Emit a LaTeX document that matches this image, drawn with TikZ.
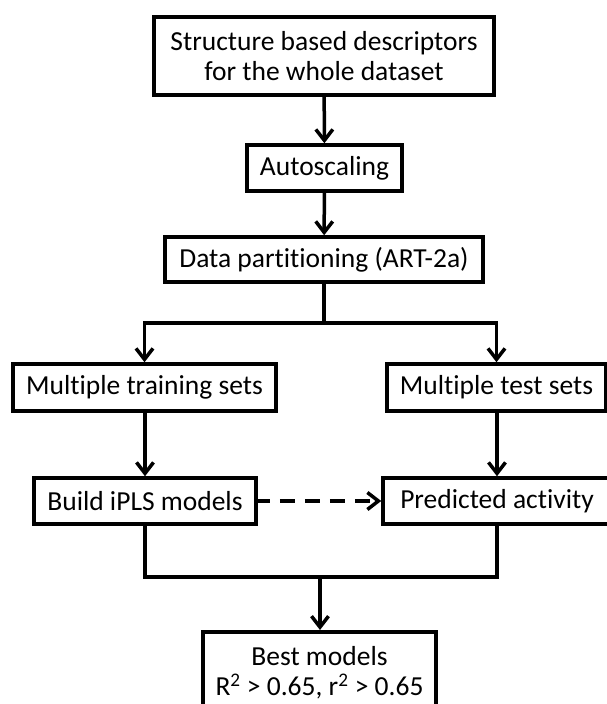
\documentclass[tikz,border=0pt]{standalone}
\usepackage{fontspec}
\setmainfont{Carlito}[Ligatures=NoCommon]
\usetikzlibrary{arrows.meta}
\tikzset{
  box/.style={draw=black, line width=3.5pt, rectangle, inner sep=0pt, align=center,
    font=\fontsize{27.5}{30}\selectfont},
  conn/.style={draw=black, line width=3.5pt},
  arr/.style={conn, -{Straight Barb[length=11pt,width=17pt,line width=3.5pt]}},
  dasharr/.style={arr, dash pattern=on 15pt off 10pt, dash phase=3pt}
}
\begin{document}
\begin{tikzpicture}[x=1pt,y=-1pt]
\useasboundingbox (0,0) rectangle (607,704);
\node[box, minimum width=340pt, minimum height=78pt] (top) at (324,56)
  {Structure based descriptors\\for the whole dataset};
\node[box, minimum width=155pt, minimum height=46pt] (auto) at (324.5,168) {Autoscaling};
\node[box, minimum width=318pt, minimum height=45pt] (part) at (324,259.5) {Data partitioning (ART-2a)};
\node[box, minimum width=263pt, minimum height=47pt] (train) at (144.5,387.5) {Multiple training sets};
\node[box, minimum width=219pt, minimum height=47pt] (test) at (496.5,387.5) {Multiple test sets};
\node[box, minimum width=222pt, minimum height=46pt] (build) at (145,501) {Build iPLS models};
\node[box, minimum width=228pt, minimum height=46pt] (pred) at (497,501) {Predicted activity};
\node[box, minimum width=233pt, minimum height=82pt, anchor=north] (best) at (319.5,630)
  {Best models\\R\textsuperscript{2} > 0.65, r\textsuperscript{2} > 0.65};
\coordinate (split) at (324,323);
\coordinate (merge) at (320,577);
\draw[arr] (top) -- (auto);
\draw[arr] (auto) -- (part);
\draw[conn] (part.south) -- (split);
\draw[arr] (split) -| (train);
\draw[arr] (split) -| (test);
\draw[arr] (train.south -| build.north) -- (build.north);
\draw[arr] (test.south -| pred.north) -- (pred.north);
\draw[dasharr] (build.east) -- (pred.west);
\draw[conn] (build.south) |- (merge);
\draw[conn] (pred.south) |- (merge);
\draw[arr] (merge) -- (best.north -| merge);
\end{tikzpicture}
\end{document}
